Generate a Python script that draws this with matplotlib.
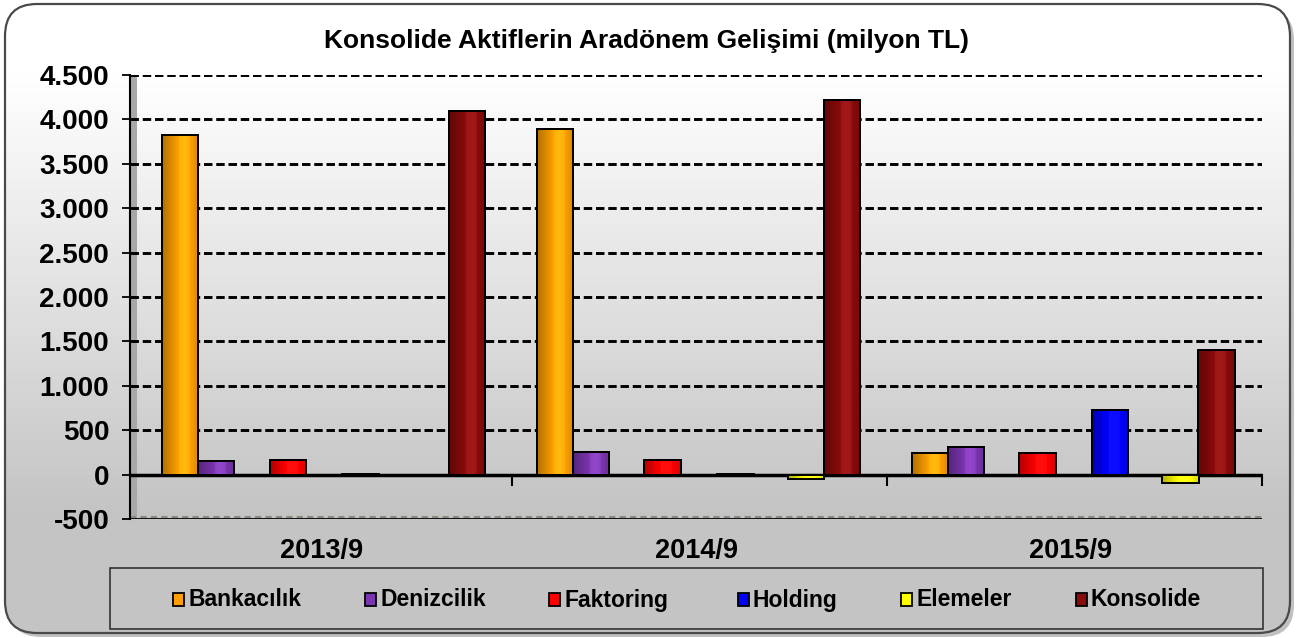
import matplotlib.pyplot as plt
import numpy as np
from matplotlib.patches import Rectangle, FancyBboxPatch
from matplotlib.ticker import FuncFormatter
from matplotlib.colors import to_rgb

periods = ['2013/9', '2014/9', '2015/9']
series = ['Bankacılık', 'Denizcilik', 'Faktoring', 'Holding', 'Elemeler', 'Konsolide']
colors = ['#FFA000', '#7B35B0', '#FF0000', '#0000FF', '#FFFF00', '#8B0A0A']

bankacilik = [3820, 3890, 240]
denizcilik = [150, 250, 315]
faktoring = [170, 160, 245]
holding = [5, 8, 725]
elemeler = [-3, -55, -90]
konsolide = [4100, 4220, 1405]
values = [bankacilik, denizcilik, faktoring, holding, elemeler, konsolide]

W, H = 1306, 638
plt.rcParams['font.family'] = ['Liberation Sans', 'DejaVu Sans']
plt.rcParams['font.weight'] = 'bold'

fig = plt.figure(figsize=(W / 100, H / 100), dpi=100)
fig.patch.set_facecolor('white')

# background with rounded frame (pixel coords)
bg = fig.add_axes([0, 0, 1, 1], zorder=-1)
bg.set_xlim(0, W)
bg.set_ylim(H, 0)
bg.axis('off')
t = np.linspace(0, 1, H)
lev = np.clip((t - 0.12) / (0.68), 0, 1)
g = 1.0 - lev * (1.0 - 0.77)
grad = np.dstack([g, g, g]).reshape(H, 1, 3)
shadow = FancyBboxPatch((9, 8), 1285, 629, boxstyle='round,pad=0,rounding_size=32',
                        facecolor='#999999', edgecolor='none', alpha=0.6)
bg.add_patch(shadow)
frame = FancyBboxPatch((5, 4), 1285, 629, boxstyle='round,pad=0,rounding_size=32',
                       facecolor='none', edgecolor='#4a4a4a', lw=1.6, zorder=3)
bg.add_patch(frame)
im = bg.imshow(grad, extent=(0, W, H, 0), aspect='auto', zorder=2)
im.set_clip_path(frame)

# legend box and entries
bg.add_patch(Rectangle((110, 568), 1153, 61, facecolor='none', edgecolor='#333333', lw=1.2, zorder=4))
leg_x = [173, 365, 549, 738, 901, 1076]
for x, name, c in zip(leg_x, series, colors):
    bg.add_patch(Rectangle((x, 593), 11, 13, facecolor=c, edgecolor='black', lw=1.3, zorder=5))
    bg.text(x + 15, 600, name, fontsize=16.5, fontweight='bold', va='center', ha='left', zorder=5)

# main axes
left, right, top, bottom = 130, 1262, 75, 519
ax = fig.add_axes([left / W, 1 - bottom / H, (right - left) / W, (bottom - top) / H])
ax.patch.set_alpha(0)
ax.set_xlim(-0.02, 3.0)
ax.set_ylim(-500, 4500)

# left wall
ax.add_patch(Rectangle((-0.02, -500), 0.02, 5000, facecolor='#a8a8a8', edgecolor='none', zorder=1))

for yv in range(500, 5000, 500):
    ax.axhline(yv, color='black', lw=2.1, ls=(0, (2.9, 1.3)), zorder=1)
ax.axhline(-480, color='#8a8a80', lw=1.5, ls=(0, (3, 2)), zorder=1)
ax.axhline(-500, color='black', lw=2, zorder=2)
ax.axhline(0, color='black', lw=2.5, zorder=2)

offsets = [0.114, 0.21, 0.401, 0.595, 0.783, 0.879]
bw = 0.097


def shade(c):
    r = np.array(to_rgb(c))
    u = np.linspace(0, 1, 64)
    f = np.where(u < 0.6, 0.7 + 0.4 * u / 0.6, 1.1 - 0.25 * (u - 0.6) / 0.4)
    row = np.clip(r[None, :] * f[:, None] + 0.05 * (f[:, None] > 1.0), 0, 1)
    return row.reshape(1, 64, 3)


x0 = np.arange(len(periods))
for vals, off, c in zip(values, offsets, colors):
    xs = x0 + off
    bars = ax.bar(xs, vals, width=bw, color=c, edgecolor='black', lw=1.4, zorder=3)
    for b in bars:
        bx, by = b.get_x(), b.get_y()
        bh = b.get_height()
        gi = ax.imshow(shade(c), extent=(bx, bx + b.get_width(), min(by, by + bh), max(by, by + bh)),
                       aspect='auto', zorder=3.5, interpolation='bilinear')
        gi.set_clip_path(b)
        ax.add_patch(Rectangle((bx, by), b.get_width(), bh, facecolor='none',
                               edgecolor='black', lw=1.4, zorder=4))
ax.set_xlim(-0.02, 3.0)
ax.set_ylim(-500, 4500)

ax.set_yticks(range(-500, 5000, 500))
ax.yaxis.set_major_formatter(FuncFormatter(lambda v, p: f'{int(v):,}'.replace(',', '.')))
ax.tick_params(axis='y', length=6, width=1.3, direction='out', labelsize=20, pad=9)
for lab in ax.get_yticklabels():
    lab.set_fontweight('bold')

ax.spines['bottom'].set_visible(False)
ax.spines['top'].set_visible(False)
ax.spines['right'].set_visible(False)
ax.spines['left'].set_linewidth(1.5)
ax.set_xticks([])
for xb in [1, 2, 3]:
    ax.plot([xb, xb], [0, -120], color='black', lw=1.5, zorder=2, clip_on=False)

for i, p in enumerate(periods):
    ax.text(i + 0.49, -0.072, p, transform=ax.get_xaxis_transform(), ha='center', va='center',
            fontsize=19.5, fontweight='bold')

fig.text(647 / W, 1 - 41 / H, 'Konsolide Aktiflerin Aradönem Gelişimi (milyon TL)',
         ha='center', va='center', fontsize=19, fontweight='bold')

plt.savefig('out.png', dpi=100)
